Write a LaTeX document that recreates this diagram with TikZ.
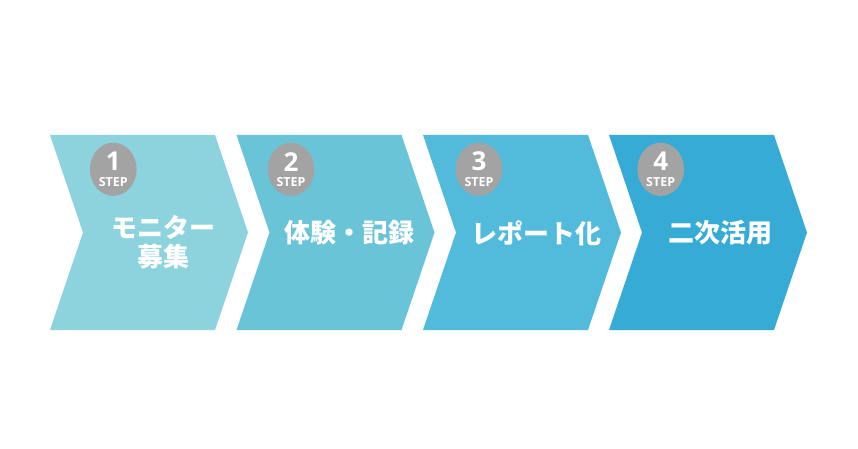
\documentclass[tikz,border=0pt]{standalone}
\usepackage{fontspec}
\setmainfont{Open Sans}
\newfontfamily\jp{Noto Sans CJK JP}
\definecolor{cA}{HTML}{8DD3DE}
\definecolor{cB}{HTML}{6AC4D8}
\definecolor{cC}{HTML}{52BBDB}
\definecolor{cD}{HTML}{36ABD5}
\definecolor{stepgray}{HTML}{A3A3A3}
\tikzset{
  chev/.style={fill=#1, draw=none},
  badge/.style={ellipse, fill=stepgray, minimum width=46.7pt, minimum height=53.3pt, inner sep=0pt},
  numtxt/.style={text=white, font=\bfseries\fontsize{26}{26}\selectfont, inner sep=0pt},
  steptxt/.style={text=white, font=\bfseries\fontsize{12.5}{12.5}\selectfont, inner sep=0pt},
  label/.style={text=white, font=\jp\bfseries\fontsize{26}{29}\selectfont, align=center, inner sep=0pt},
}
\usetikzlibrary{shapes.geometric}
\begin{document}
\begin{tikzpicture}[x=1pt,y=-1pt]
\useasboundingbox (0,0) rectangle (858,449);
\fill[white] (0,0) rectangle (858,449);
\foreach \x/\c in {50/cA,236.5/cB,423/cC,609/cD}{
  \fill[chev=\c] (\x,135) -- (\x+165,135) -- (\x+198,232.5) -- (\x+165,330) -- (\x,330) -- (\x+33,232.5) -- cycle;
}
\foreach \i/\cx in {1/113.3,2/291,3/479,4/660.7}{
  \node[badge] (b\i) at (\cx,169.3) {};
  \node[numtxt] (n\i) at (\cx,161.7) {\i};
  \node[steptxt] (s\i) at (\cx,182) {STEP};
}
\node[label] (t1) at (163,242.3) {モニター\\募集};
\node[label] (t2) at (349,233) {体験・記録};
\node[label] (t3) at (536,233) {レポート化};
\node[label] (t4) at (720,233) {二次活用};
\end{tikzpicture}
\end{document}
